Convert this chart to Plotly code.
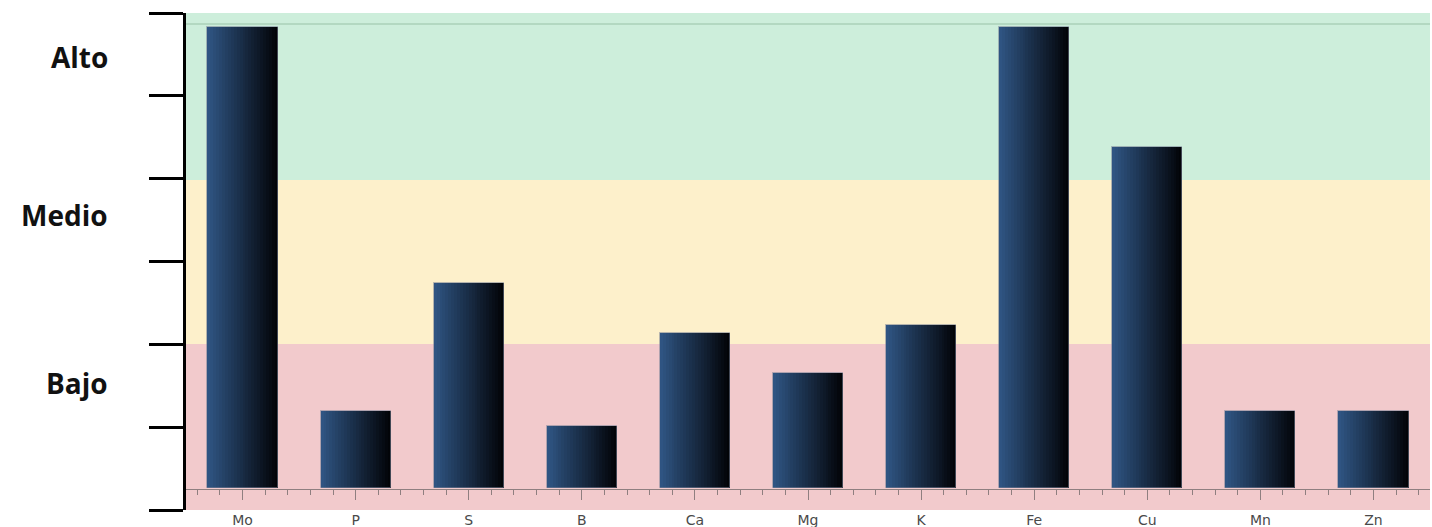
import plotly.graph_objects as go

# ---- data ----
categories = ["Mo", "P", "S", "B", "Ca", "Mg", "K", "Fe", "Cu", "Mn", "Zn"]
heights = [5.57, 0.935, 2.48, 0.755, 1.875, 1.395, 1.975, 5.57, 4.12, 0.935, 0.935]
baseline = 0.26

level_names = ["Bajo", "Medio", "Alto"]
level_label_pos = [1.53, 3.56, 5.47]
band_edges = [0.0, 2.004, 3.984, 6.0]
band_colors = ["#f2cacc", "#fdf0cb", "#cdeedb"]
top_line = 5.867
axis_ticks = [0, 1, 2, 3, 4, 5, 6]

# ---- style ----
bar_w = 0.62
n_strips = 24
c_left = (47, 84, 130)
c_right = (2, 4, 8)

xs = list(range(len(categories)))
fig = go.Figure()

step = bar_w / n_strips
for i in range(n_strips):
    t = i / (n_strips - 1)
    col = tuple(round(c_left[k] + (c_right[k] - c_left[k]) * t) for k in range(3))
    off = -bar_w / 2 + i * step
    w = min(step * 1.6, bar_w / 2 - off)
    fig.add_trace(go.Bar(
        x=xs, y=heights, base=baseline, width=w, offset=off,
        marker=dict(color="rgb(%d,%d,%d)" % col, line=dict(width=0)),
        showlegend=False, hoverinfo="skip"))

# thin outline
fig.add_trace(go.Bar(
    x=xs, y=heights, base=baseline, width=bar_w,
    marker=dict(color="rgba(0,0,0,0)", line=dict(width=1, color="rgba(120,130,150,0.55)")),
    showlegend=False, hoverinfo="skip"))

# invisible trace to carry the baseline axis
fig.add_trace(go.Scatter(x=xs, y=[baseline] * len(xs), xaxis="x2", mode="none",
                         showlegend=False, hoverinfo="skip"))

shapes = []
for i in range(3):
    shapes.append(dict(type="rect", xref="paper", yref="y", x0=0, x1=1,
                       y0=band_edges[i], y1=band_edges[i + 1],
                       fillcolor=band_colors[i], line=dict(width=0), layer="below"))
shapes.append(dict(type="line", xref="paper", yref="y", x0=0, x1=1, y0=top_line, y1=top_line,
                   line=dict(color="#b3d8c1", width=2), layer="below"))

annotations = []
for name, pos in zip(level_names, level_label_pos):
    annotations.append(dict(text="<b>%s</b>" % name, xref="paper", yref="y", x=0, y=pos,
                            xanchor="right", yanchor="middle", xshift=-76, showarrow=False,
                            font=dict(family="Open Sans", size=28, color="#111111")))

H = 527
top_px, bot_px = 13, 510
base_px = 488.5
plot_h = bot_px - top_px

fig.update_layout(
    width=1432, height=H,
    margin=dict(l=186, r=2, t=top_px, b=H - bot_px, autoexpand=False),
    paper_bgcolor="white", plot_bgcolor="white",
    barmode="overlay", bargap=0,
    shapes=shapes, annotations=annotations,
    xaxis=dict(range=[-0.5, len(categories) - 0.5], tickmode="array", tickvals=xs,
               ticktext=categories, showline=False, ticks="", ticklen=0,
               showgrid=False, zeroline=False, automargin=False,
               tickfont=dict(family="DejaVu Sans", size=14, color="#4a4a4a")),
    xaxis2=dict(range=[-0.5, len(categories) - 0.5], overlaying="x", anchor="free",
                position=(bot_px - base_px) / plot_h, side="bottom",
                tickmode="array", tickvals=xs, showticklabels=False, automargin=False,
                showline=True, linecolor="#8f7f80", linewidth=1,
                ticks="outside", ticklen=10, tickcolor="#8f7f80", tickwidth=1,
                minor=dict(dtick=0.2, tick0=0, ticks="outside", ticklen=5,
                           tickcolor="#8f7f80", tickwidth=1, showgrid=False),
                showgrid=False, zeroline=False),
    yaxis=dict(range=[axis_ticks[0], axis_ticks[-1]], tickmode="array", tickvals=axis_ticks,
               showticklabels=False, showline=True, linecolor="black", linewidth=3,
               ticks="outside", ticklen=34, tickwidth=3, tickcolor="black", automargin=False,
               showgrid=False, zeroline=False),
)

fig.write_html("out.html")
